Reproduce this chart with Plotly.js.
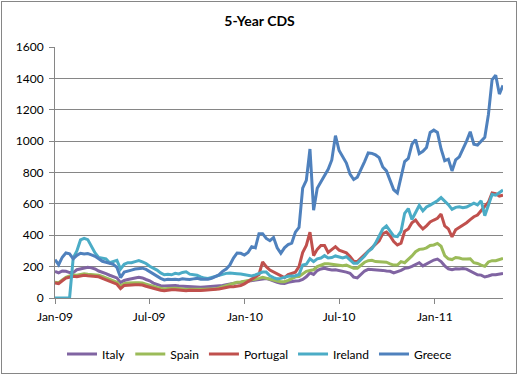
<!DOCTYPE html>
<html><head><meta charset="utf-8">
<script src="https://cdn.plot.ly/plotly-3.0.1.min.js"></script>
<style>
html,body{margin:0;padding:0;background:#fff;}
#wrap{position:relative;width:519px;height:376px;}
#chart{width:519px;height:376px;}
#frame{position:absolute;left:1px;top:1px;width:516px;height:373px;border:1px solid #868686;box-sizing:border-box;pointer-events:none;}
</style>
</head><body>
<div id="wrap"><div id="chart"></div><div id="frame"></div></div>
<script>
const dates = [
"2009-01-01","2009-01-08","2009-01-15","2009-01-22","2009-01-29",
"2009-02-05","2009-02-12","2009-02-19","2009-02-26",
"2009-03-05","2009-03-12","2009-03-19","2009-03-26",
"2009-04-02","2009-04-09","2009-04-16","2009-04-23","2009-04-30",
"2009-05-07","2009-05-14","2009-05-21","2009-05-28",
"2009-06-04","2009-06-11","2009-06-18","2009-06-25",
"2009-07-02","2009-07-09","2009-07-16","2009-07-23","2009-07-30",
"2009-08-06","2009-08-13","2009-08-20","2009-08-27",
"2009-09-03","2009-09-10","2009-09-17","2009-09-24",
"2009-10-01","2009-10-08","2009-10-15","2009-10-22","2009-10-29",
"2009-11-05","2009-11-12","2009-11-19","2009-11-26",
"2009-12-03","2009-12-10","2009-12-17","2009-12-24","2009-12-31",
"2010-01-07","2010-01-14","2010-01-21","2010-01-28",
"2010-02-04","2010-02-11","2010-02-18","2010-02-25",
"2010-03-04","2010-03-11","2010-03-18","2010-03-25",
"2010-04-01","2010-04-08","2010-04-15","2010-04-22","2010-04-29",
"2010-05-06","2010-05-13","2010-05-20","2010-05-27",
"2010-06-03","2010-06-10","2010-06-17","2010-06-24",
"2010-07-01","2010-07-08","2010-07-15","2010-07-22","2010-07-29",
"2010-08-05","2010-08-12","2010-08-19","2010-08-26",
"2010-09-02","2010-09-09","2010-09-16","2010-09-23","2010-09-30",
"2010-10-07","2010-10-14","2010-10-21","2010-10-28",
"2010-11-04","2010-11-11","2010-11-18","2010-11-25",
"2010-12-02","2010-12-09","2010-12-16","2010-12-23","2010-12-30",
"2011-01-06","2011-01-13","2011-01-20","2011-01-27",
"2011-02-03","2011-02-10","2011-02-17","2011-02-24",
"2011-03-03","2011-03-10","2011-03-17","2011-03-24","2011-03-31",
"2011-04-07","2011-04-14","2011-04-21","2011-04-28",
"2011-05-05","2011-05-12"
];

const italy = [
170,160,172,170,162,162,180,185,192,196,
192,185,172,165,155,145,138,128,98,112,
118,125,128,132,128,118,110,95,85,78,
76,78,78,80,76,74,72,72,70,70,
68,70,72,70,72,76,80,85,90,95,
98,100,104,106,110,115,118,122,124,118,
108,100,94,92,100,105,108,110,118,135,
160,150,175,185,190,183,178,180,176,172,
165,158,133,128,150,172,183,182,180,180,
176,172,170,160,168,176,189,192,202,215,
225,205,218,232,242,248,232,205,186,180,
186,185,188,184,172,158,148,146,134,140,
148,148,152,157
];

const spain = [
100,98,115,132,140,146,145,150,155,152,
150,148,145,138,128,118,108,100,75,92,
95,98,98,97,95,88,80,74,68,62,
58,60,62,62,60,57,55,56,55,54,
55,56,58,57,58,64,72,78,88,95,
100,102,106,110,115,118,125,132,125,118,
112,108,104,104,112,125,135,137,155,170,
175,180,200,210,218,218,215,215,208,205,
210,200,189,190,210,228,238,240,232,232,
232,228,218,210,210,232,225,245,268,295,
310,312,320,335,338,348,330,270,250,245,
258,255,248,248,250,225,220,210,202,230,
238,238,248,253
];

const portugal = [
96,92,110,127,132,138,135,140,145,142,
140,138,135,125,115,105,96,88,60,80,
82,85,85,85,83,75,68,62,55,50,
46,50,52,52,50,48,47,50,48,47,
48,50,52,50,52,58,62,68,72,72,
75,80,90,105,125,136,150,230,200,178,
165,155,140,130,150,157,165,200,290,335,
420,270,310,335,335,290,310,327,305,295,
288,265,235,232,255,278,300,325,342,365,
410,420,395,360,338,350,425,440,480,497,
465,440,460,485,497,508,535,460,440,390,
435,450,462,480,500,518,529,561,585,610,
670,665,650,655
];

const ireland = [
0,0,0,0,0,255,300,370,380,372,
325,287,258,255,250,225,235,240,185,215,
225,225,232,238,230,220,202,190,178,160,
148,152,148,157,153,163,167,152,147,145,
135,127,125,132,136,147,153,157,160,156,
155,153,148,147,140,147,157,165,165,142,
130,122,125,133,138,140,142,150,210,215,
250,232,250,255,270,255,258,268,263,255,
263,245,222,222,245,268,298,315,350,400,
440,460,425,395,391,425,540,570,500,550,
590,555,580,592,604,620,640,620,595,565,
578,582,575,580,593,604,593,620,525,600,
660,655,670,688
];

const greece = [
244,212,260,287,282,250,272,285,280,283,
275,266,250,234,228,220,215,195,130,165,
170,178,185,188,190,182,168,150,138,125,
115,120,118,120,116,122,120,118,122,125,
120,118,120,125,136,147,170,185,210,255,
287,285,274,290,327,320,410,410,380,365,
385,320,285,320,340,350,420,450,700,750,
950,560,700,740,780,820,880,1035,940,900,
860,790,755,770,815,870,925,922,912,895,
835,810,750,690,670,770,870,890,980,1010,
920,935,960,1055,1070,1055,950,875,885,810,
880,900,945,1000,1060,980,975,1000,1025,1170,
1390,1420,1300,1355
];

const seriesNames = ["Italy","Spain","Portugal","Ireland","Greece"];
const seriesColors = ["#8064A2","#9BBB59","#C0504D","#4BACC6","#4F81BD"];
const seriesValues = [italy, spain, portugal, ireland, greece];

const tickDates = ["2009-01-01","2009-07-01","2010-01-01","2010-07-01","2011-01-01"];
const tickLabels = ["Jan-09","Jul-09","Jan-10","Jul-10","Jan-11"];

const traces = seriesNames.map((n,i)=>({
  type:'scatter', mode:'lines', name:n, x:dates, y:seriesValues[i],
  line:{color:seriesColors[i], width:3, shape:'linear'}
}));

const gray = '#868686';
const layout = {
  width:519, height:376,
  margin:{l:55, r:16, t:47, b:78},
  paper_bgcolor:'#ffffff', plot_bgcolor:'#ffffff',
  font:{family:'Lato, "Open Sans", sans-serif', size:12, color:'#000'},
  title:{text:'<b>5-Year CDS</b>', font:{family:'Lato, sans-serif', size:14, color:'#000'},
         x:0.5, xref:'container', xanchor:'center', y:1-21.5/376, yref:'container', yanchor:'middle'},
  xaxis:{type:'date', range:['2009-01-01','2011-05-12'], tickmode:'array', tickvals:tickDates, ticktext:tickLabels,
         ticks:'outside', ticklen:5, tickcolor:gray, tickwidth:1, showline:true, linecolor:gray, linewidth:1,
         showgrid:false, zeroline:false, ticklabelstandoff:3, fixedrange:true},
  yaxis:{range:[0,1600], tick0:0, dtick:200, ticks:'outside', ticklen:5, tickcolor:gray, tickwidth:1,
         showline:true, linecolor:gray, linewidth:1, showgrid:true, gridcolor:gray, gridwidth:1,
         zeroline:false, ticklabelstandoff:3, fixedrange:true},
  showlegend:true,
  legend:{orientation:'h', x:0.5, xref:'container', xanchor:'center', y:1-354/376, yref:'container', yanchor:'middle',
          font:{size:12}, bgcolor:'rgba(0,0,0,0)'},
  hovermode:false
};

Plotly.newPlot('chart', traces, layout, {staticPlot:true, displayModeBar:false});
</script>
</body></html>
